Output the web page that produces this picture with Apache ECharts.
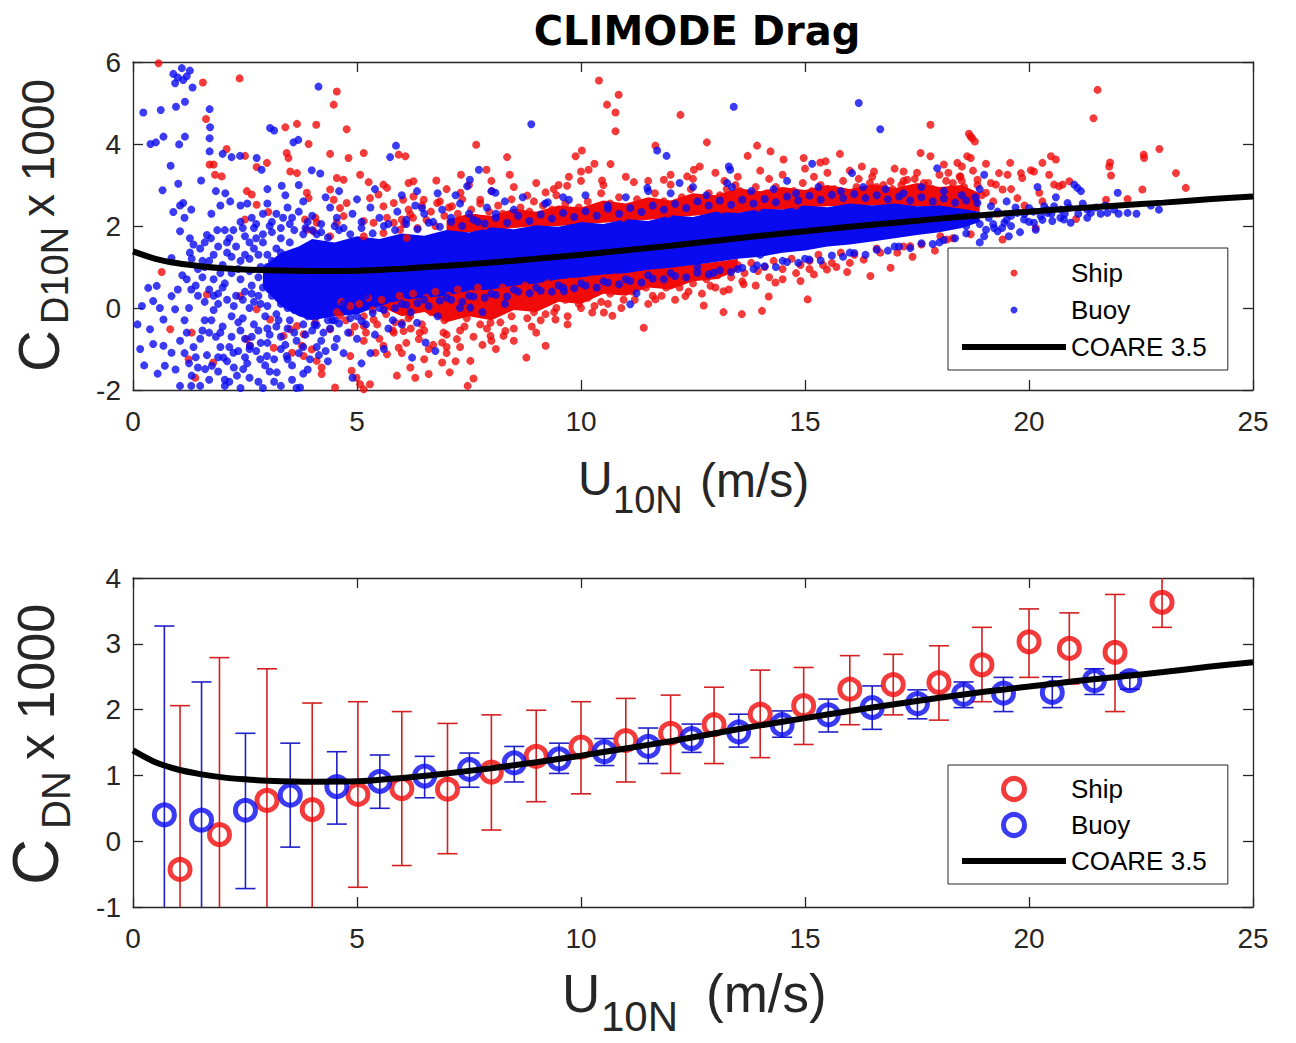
<!DOCTYPE html>
<html><head><meta charset="utf-8">
<script src="https://cdn.jsdelivr.net/npm/echarts/dist/echarts.min.js"></script>
<style>html,body{margin:0;padding:0;background:#fff;}#c{width:1296px;height:1043px;}</style>
</head><body><div id="c"></div>
<script>
// ---------------- DATA ----------------
const coareU  = [0,0.5,1,1.5,2,2.5,3,4,5,6,7,8,9,10,11,12,13,14,15,16,17,18,19,20,21,22,23,24,25];
const coareCd = [1.38,1.2,1.09,1.02,0.97,0.94,0.92,0.905,0.91,0.96,1.03,1.11,1.2,1.3,1.41,1.52,1.64,1.76,1.87,1.98,2.08,2.18,2.27,2.35,2.43,2.5,2.57,2.65,2.72];

// saturated (over-plotted) core of the buoy cloud
const buoyCoreU    = [2.9,3.3,3.7,4.0,4.5,5.0,5.5,6.0,6.5,7.0,7.5,8.0,8.5,9.0,9.5,10,10.5,11,11.5,12,12.5,13,13.5,14,14.5,15,15.5,16,16.5,17,17.5,18,18.5,18.9];
const buoyCoreHigh = [1.0,1.35,1.5,1.68,1.6,1.75,1.68,1.82,1.76,1.9,1.84,1.97,1.92,2.02,1.98,2.1,2.05,2.17,2.12,2.26,2.22,2.35,2.32,2.42,2.4,2.5,2.46,2.55,2.5,2.55,2.48,2.5,2.42,2.35];
const buoyCoreLow  = [0.5,0.05,-0.2,-0.3,-0.2,-0.15,0.05,0.2,0.25,0.3,0.42,0.45,0.55,0.6,0.7,0.75,0.82,0.85,0.93,0.98,1.05,1.12,1.2,1.25,1.35,1.4,1.5,1.55,1.62,1.7,1.78,1.85,1.95,2.1];
// saturated parts of the ship cloud (above and below the buoy core)
const shipUpperCoreU    = [7,7.5,8,8.5,9,9.5,10,10.5,11,11.5,12,12.5,13,13.5,14,14.5,15,15.5,16,16.5,17,17.5,18,18.5,18.9];
const shipUpperCoreHigh = [2.15,2.3,2.25,2.42,2.35,2.5,2.45,2.62,2.55,2.7,2.62,2.8,2.75,2.92,2.85,2.95,2.88,3.0,2.9,3.02,2.92,3.05,2.95,3.0,2.8];
const shipUpperCoreLow  = [1.8,1.85,1.9,1.95,2.0,2.0,2.05,2.08,2.12,2.15,2.2,2.25,2.3,2.32,2.38,2.4,2.45,2.48,2.5,2.5,2.5,2.48,2.45,2.4,2.35];
const shipLowerCoreU    = [5.5,6,6.5,7,7.5,8,8.5,9,9.5,10,10.5,11,11.5,12,12.5,13,13.5];
const shipLowerCoreHigh = [0.3,0.35,0.4,0.45,0.5,0.55,0.6,0.65,0.72,0.8,0.85,0.9,0.95,1.0,1.06,1.12,1.2];
const shipLowerCoreLow  = [0.05,-0.2,-0.1,-0.35,-0.2,-0.3,-0.05,-0.1,0.15,0.1,0.35,0.3,0.5,0.45,0.65,0.7,0.9];

const shipPoints = [
[0.57,5.97],[1.56,5.5],[2.38,5.6],[4.55,5.28],[4.48,4.96],[1.63,4.61],[3.4,4.41],[3.66,4.49],[4.09,4.47],[4.77,4.36],[2.09,3.88],[2.5,3.71],[3.43,3.78],[3.47,3.66],[3.92,4.0],[4.4,3.76],[4.81,3.66],[5.15,3.78],[5.93,3.74],[6.08,3.7],[1.71,3.5],[1.8,3.5],[1.83,3.25],[1.98,3.21],[2.76,3.44],[2.99,3.54],[3.51,3.33],[3.66,3.29],[4.55,3.17],[4.7,3.13],[5.07,3.25],[5.26,3.07],[5.59,3.01],[5.67,2.93],[6.15,3.05],[2.54,2.85],[2.65,2.77],[2.76,2.52],[3.02,2.34],[3.88,2.81],[3.92,2.68],[4.4,2.89],[4.48,2.64],[4.77,2.56],[4.62,2.44],[5.29,2.68],[5.48,2.77],[5.59,2.48],[5.82,2.56],[6.03,2.64],[2.5,2.16],[3.84,2.16],[4.07,2.2],[4.1,2.08],[4.55,2.08],[4.7,2.24],[5.15,2.12],[5.37,2.08],[5.67,2.2],[5.82,2.08],[6.0,2.16],[6.19,2.28],[3.88,1.91],[4.03,1.87],[4.4,1.75],[5.15,1.75],[5.59,1.83],[5.96,1.91],[6.11,1.71],[0.64,0.88],
[1.24,-1.25],[1.79,-1.33],[1.39,-1.7],[2.54,-0.76],[2.61,-0.92],[3.14,-0.97],[3.55,-1.09],[3.77,-0.92],[3.81,-1.17],[3.99,-1.01],[4.1,-1.29],[4.21,-1.45],[4.21,-1.61],[4.51,-1.94],[4.88,-1.53],[4.99,-1.7],[5.07,-1.86],[5.15,-1.98],[5.29,-1.86],[4.85,-1.17],[5.15,-0.8],[5.41,-1.09],[5.59,-0.92],[5.67,-1.13],[5.93,-0.97],[5.89,-1.65],[6.19,-1.45],[6.0,-0.36],[6.11,-0.03],[6.19,-0.19],[6.04,-0.56],[3.66,-0.44],[3.81,-0.64],[4.07,-0.36],[4.4,-0.52],[4.62,-0.19],[4.85,-0.6],[5.15,-0.44],[5.37,-0.28],[5.59,-0.03],[5.82,-0.6],[2.76,-0.03],[3.06,-0.28],[3.36,-0.68],[3.51,-0.52],[2.39,0.29],[1.65,0.33],[0.83,-0.52],[1.31,-0.6],
[10.4,5.55],[10.58,4.96],[10.84,5.2],[10.77,4.77],[10.77,4.31],[12.22,4.71],[7.66,3.98],[8.35,3.68],[8.41,3.25],[7.89,3.37],[7.32,3.25],[6.77,3.11],[6.26,3.09],[9.88,3.7],[10.02,3.84],[10.0,3.33],[10.17,3.37],[10.3,3.52],[10.66,3.51],[10.47,3.11],[11.18,3.07],[11.66,3.96],[9.73,3.2],[9.69,2.98],[9.39,2.9],[9.21,2.82],[8.8,2.74],[8.01,2.85],[7.75,2.64],[7.31,2.81],[7.12,2.48],[6.79,2.56],[6.49,2.64],[6.26,2.72],[12.0,3.01],[11.85,3.13],[12.37,3.21],[12.52,3.37],
[8.78,-1.21],[9.21,-0.92],[7.53,-1.29],[7.6,-1.72],[7.47,-1.9],[7.07,-1.57],[6.9,-1.33],[6.6,-1.61],[6.3,-1.7],[11.4,-0.48],[12.33,0.29],[11.66,0.21],[10.7,-0.19],[10.51,-0.11],[10.25,-0.11],[9.43,-0.28],[9.21,-0.15],[8.31,-0.56],[8.27,-0.68],[7.98,-0.36],[7.98,-0.68],[7.23,-0.76],[6.93,-0.6],[6.9,-0.84],[6.38,-0.76],[6.6,-1.0],[7.0,-1.1],[7.3,-0.95],[7.8,-0.9],[8.1,-1.0],[8.5,-0.8],[8.9,-0.45],[9.7,-0.4],[6.5,-1.25],[7.2,-1.3],
[17.8,4.47],[18.66,4.25],[18.73,4.14],[12.81,4.04],[13.93,3.96],[14.23,3.82],[13.72,3.71],[15.78,3.76],[17.58,3.78],[17.8,3.7],[18.62,3.7],[15.34,3.55],[15.46,3.58],[14.97,3.66],[14.52,3.62],[12.65,3.45],[16.27,3.45],[16.54,3.33],[17.2,3.33],[18.1,3.5],[18.4,3.54],[18.47,3.21],[16.91,3.09],[17.28,3.13],[17.65,3.05],
[12.74,0.06],[13.18,-0.1],[13.59,-0.15],[14.04,-0.07],[14.19,0.28],[15.06,0.21],[14.34,0.62],[14.9,0.66],[13.18,0.41],[13.63,0.58],[12.89,0.54],[12.59,0.86],[15.49,0.94],[15.94,0.88],[16.46,0.78],[16.91,0.98],[15.2,0.82],[16.31,1.18],[16.68,1.35],[17.06,1.35],[17.35,1.51],[18.17,1.67],[18.02,1.75],[17.4,1.25],[17.9,1.4],[18.4,1.3],
[21.53,5.32],[21.44,4.63],[22.91,3.88],[22.56,3.74],[22.57,3.66],[23.28,3.29],[23.5,2.93],[22.53,2.89],[21.81,3.55],[21.79,3.45],[21.83,3.23],[18.7,4.18],[18.79,4.06],[18.7,3.66],[19.04,3.52],[19.58,3.54],[20.3,3.54],[20.49,3.7],[20.6,3.62],[20.04,3.36],[20.11,3.33],[19.82,3.29],[19.85,3.17],[19.52,3.25],[19.33,3.29],[20.45,3.25],[20.56,3.01],[20.67,2.97],[20.75,3.01],[20.9,3.09],[19.15,3.05],[19.26,3.01],[18.85,3.13],[19.04,2.81],[19.41,2.89],[20.23,2.81],[19.74,2.68],[21.72,2.64],[22.2,2.66],[21.05,2.17],[20.15,1.95],[19.41,1.67],
[6.05,2.05],[6.15,2.4],[6.25,2.2],[6.35,1.95],[6.45,2.5],[6.55,2.15],[6.65,2.35],[6.75,2.0],[6.85,2.6],[6.95,2.25],
[7.05,2.45],[7.15,2.1],[7.25,2.3],[7.35,2.65],[7.45,2.05],[7.55,2.4],[7.65,2.2],[7.75,2.55],[7.85,2.0],[7.95,2.35],
[8.05,2.15],[8.15,2.5],[8.25,2.3],[8.35,2.05],[8.45,2.65],[8.55,2.2],[8.65,2.45],[8.75,2.1],[8.85,2.35],[8.95,2.6],
[9.05,2.25],[9.15,2.5],[9.25,2.1],[9.35,2.4],[9.45,2.75],[9.55,2.2],[9.65,2.55],[9.75,2.3],[9.85,2.15],[9.95,2.45],
[10.05,2.3],[10.15,2.6],[10.25,2.2],[10.35,2.45],[10.45,2.8],[10.55,2.25],[10.65,2.55],[10.75,2.35],[10.85,2.7],[10.95,2.2],
[11.05,2.45],[11.15,2.3],[11.25,2.65],[11.35,2.4],[11.45,2.25],[11.55,2.55],[11.65,2.8],[11.75,2.35],[11.85,2.6],[11.95,2.3],
[12.05,2.5],[12.15,2.35],[12.25,2.7],[12.35,2.45],[12.45,2.9],[12.55,2.4],[12.65,2.6],[12.75,2.45],[12.85,2.8],[12.95,2.55],
[13.05,2.5],[13.1,2.75],[13.2,2.6],[13.25,2.9],[13.35,2.45],[13.4,2.7],[13.5,2.55],[13.55,2.85],[13.6,2.65],[13.7,2.5],[13.75,2.75],[13.85,2.6],[13.9,2.95],[13.95,2.45],[13.45,3.0],[13.15,2.4],
[14.05,2.55],[14.15,2.8],[14.25,2.6],[14.35,2.95],[14.45,2.5],[14.55,2.7],[14.65,2.55],[14.75,2.85],[14.85,2.65],[14.95,3.05],[14.4,2.75],[14.8,2.5],
[15.05,2.6],[15.15,2.85],[15.25,2.65],[15.35,3.0],[15.45,2.7],[15.55,2.6],[15.65,2.9],[15.75,2.7],[15.85,3.1],[15.95,2.65],
[16.05,2.7],[16.15,2.95],[16.25,2.75],[16.35,2.65],[16.45,3.05],[16.55,2.8],[16.65,2.7],[16.75,3.0],[16.85,2.75],[16.95,2.9],[16.3,2.85],[16.6,2.95],
[17.05,2.75],[17.15,3.0],[17.25,2.8],[17.35,2.7],[17.45,3.15],[17.55,2.85],[17.65,2.75],[17.75,3.05],[17.85,2.9],[17.95,2.7],
[18.05,2.8],[18.15,3.1],[18.25,2.9],[18.35,2.7],[18.45,3.2],[18.55,2.95],[18.65,2.8],[18.75,3.35],[18.85,3.0],[18.95,2.75],[18.5,3.45],[18.2,3.3],
[7.0,2.9],[7.5,3.0],[8.0,3.1],[8.5,2.95],[9.0,3.05],[9.5,3.0],[10.0,3.1],[10.5,3.0],[11.0,3.2],[11.5,3.1],[12.0,3.25],[12.5,3.15],[13.0,3.3],[13.5,3.2],[14.0,3.35],[14.5,3.25],[15.0,3.4],[15.5,3.3],[16.0,3.35],[16.5,3.2],[17.0,3.4],[17.5,3.3],[18.0,3.25],[18.5,3.1],[13.2,3.1],[14.2,3.15],[15.2,3.2],[16.2,3.15],[17.2,3.1],[18.3,3.05],[19.2,2.6],[19.6,2.9],[19.9,2.5],[20.3,2.6],[19.3,2.3],
[4.55,-0.1],[4.65,0.15],[4.75,-0.3],[4.85,0.05],[4.95,-0.45],
[5.05,0.1],[5.15,-0.2],[5.25,0.25],[5.35,-0.05],[5.45,-0.4],[5.55,0.2],[5.65,-0.15],[5.75,0.05],[5.85,-0.35],[5.95,0.3],
[6.05,0.15],[6.15,-0.25],[6.25,0.35],[6.35,0.0],[6.45,-0.4],[6.55,0.25],[6.65,-0.1],[6.75,0.4],[6.85,0.05],[6.95,-0.3],[6.5,-0.55],[6.2,-0.5],
[7.05,0.3],[7.15,-0.05],[7.25,0.45],[7.35,0.1],[7.45,-0.25],[7.55,0.35],[7.65,0.0],[7.75,-0.4],[7.85,0.25],[7.95,-0.1],[7.4,-0.45],[7.7,0.5],
[8.05,0.35],[8.15,0.0],[8.25,0.5],[8.35,0.15],[8.45,-0.2],[8.55,0.4],[8.65,0.05],[8.75,0.55],[8.85,0.2],[8.95,-0.1],
[9.05,0.45],[9.15,0.15],[9.25,0.6],[9.35,0.3],[9.45,0.0],[9.55,0.5],[9.65,0.2],[9.75,0.65],[9.85,0.35],[9.95,0.1],
[10.05,0.55],[10.15,0.25],[10.25,0.7],[10.35,0.4],[10.45,0.15],[10.55,0.6],[10.65,0.35],[10.75,0.75],[10.85,0.45],[10.95,0.2],
[11.05,0.65],[11.15,0.4],[11.3,0.8],[11.45,0.5],[11.6,0.3],[11.75,0.7],[11.9,0.5],
[12.05,0.75],[12.2,0.5],[12.35,0.85],[12.5,0.6],[12.65,0.9],[12.8,0.7],[12.95,0.95],
[13.05,0.8],[13.2,1.0],[13.35,0.75],[13.5,1.05],[13.65,0.85],[13.8,1.1],[13.95,0.9],
[14.1,1.0],[14.3,1.15],[14.5,0.95],[14.7,1.2],[14.9,1.05],[15.1,1.15],[15.3,1.3],[15.6,1.1],[15.8,1.35],
[16.1,1.3],[16.6,1.45],[17.2,1.5],[17.6,1.55],[18.3,1.7],[18.7,1.8],
[5.2,-0.6],[5.5,-0.75],[5.8,-0.55],[6.1,-0.85],[6.4,-0.6],[6.7,-0.9],[7.0,-0.65],[7.3,-0.55],[7.6,-0.7],[7.9,-0.5],[8.2,-0.35],[8.5,-0.5],[8.8,-0.25],[9.1,-0.3],[9.4,-0.1],[9.7,-0.2],[10.0,0.0],[10.3,0.05],[10.6,0.1],[10.9,0.0],[11.2,0.2],[11.5,0.1],[11.8,0.3],[12.1,0.2],[12.4,0.4],[12.7,0.35],[13.0,0.5],[13.3,0.45],[13.6,0.65],[13.9,0.55],[14.2,0.75],[14.5,0.7],[14.8,0.85],[15.1,0.95],[15.4,1.05],[15.7,1.0],[16.0,1.1],[6.0,-1.1],[7.0,-0.95],[8.0,-0.8],[9.0,-0.6]
];

const buoyPoints = [
[1.09,5.85],[0.9,5.71],[1.27,5.79],[0.94,5.48],[1.12,5.56],[1.33,5.38],[1.2,5.65],[1.0,5.62],
[0.23,4.77],[0.62,4.83],[0.96,4.91],[1.16,5.03],[1.71,4.85],
[0.39,4.0],[0.51,4.04],[0.68,4.18],[1.03,3.99],[1.16,4.18],[1.72,4.41],[1.71,4.14],[1.71,3.82],
[0.84,3.47],[1.52,3.11],[1.01,3.03],[0.66,2.87],
[2.0,3.76],[2.2,3.68],[2.39,3.71],[2.76,3.66],[2.87,3.37],[3.06,4.39],[3.15,4.33],[3.58,4.04],[3.69,4.1],[3.99,3.36],[4.18,3.28],[4.14,5.4],[3.32,2.98],[5.87,3.96],[5.74,3.68],
[1.12,2.56],[0.9,2.34],[1.05,2.5],[1.3,2.4],[1.15,2.2],[1.75,2.3],[1.95,2.5],[2.17,2.6],[2.4,2.5],[1.85,2.85],[2.06,2.8],[2.55,2.55],[3.0,2.55],[2.65,2.2],[2.4,2.1],[2.75,2.05],[3.2,2.3],[3.45,2.45],[3.8,2.6],[3.55,2.2],
[1.05,1.87],[1.27,1.7],[1.65,1.78],[1.74,1.7],[1.88,1.9],[2.1,1.6],[2.05,1.9],[2.24,1.9],[2.5,1.75],[2.7,1.95],[2.9,1.6],[3.1,1.85],[3.3,1.7],
[0.86,1.22],[1.27,1.35],[1.31,1.2],[1.5,1.45],[1.55,1.15],[1.8,1.3],[2.2,1.25],[2.5,1.3],[2.7,1.45],[3.0,1.3],
[0.34,0.49],[0.53,0.54],[0.45,0.17],[0.86,0.29],[0.94,-0.03],[0.38,-0.52],[0.68,-0.28],[0.68,-0.92],[0.86,-1.09],[0.16,-1.0],[0.45,-0.88],[0.71,-1.41],
[1.05,-1.9],[1.31,-1.65],[1.61,-1.49],[1.76,-1.41],[2.05,-1.9],[2.32,-1.65],[2.46,-1.49],[2.02,-1.21],[2.24,-1.09],[2.61,-0.92],[2.84,-1.25],[2.99,-1.17],[3.21,-1.57],[3.43,-1.17],[3.73,-1.94],[2.05,-1.75],
[1.25,-1.35],[1.35,-0.95],[1.5,-0.75],[1.2,-0.6],[1.6,-0.3],[1.25,0.0],[1.45,0.3],[1.7,0.45],[1.9,0.1],[2.0,-0.45],[2.15,-0.95],[2.35,-0.35],[2.5,-0.75],[2.6,-1.0],[2.8,-0.55],[3.0,-0.85],[3.2,-0.45],[3.4,-0.9],[3.6,-0.6],[3.8,-0.95],[4.0,-0.55],[4.2,-0.8],[4.5,-0.95],[4.35,-1.3],[4.7,-1.1],[5.0,-0.75],
[2.05,0.6],[2.3,0.3],[2.6,0.0],[2.8,0.3],[3.0,0.05],[3.2,-0.15],[1.8,-0.05],[1.55,0.75],[1.95,0.85],[2.4,0.7],[2.65,0.55],[1.4,-1.2],[1.85,-0.7],[1.9,-1.2],[2.5,-1.2],[2.25,-1.45],[3.15,-1.8],[3.65,-1.95],[2.8,-1.8],[3.45,-1.25],[3.9,-1.5],[4.15,-1.15],[2.95,-0.2],[3.5,-0.3],[3.7,0.15],[3.9,-0.2],[4.4,-0.5],[4.8,-0.6],[5.2,-0.4],[5.4,-0.65],[5.7,-0.5],[6.0,-0.4],[6.34,-0.36],[6.53,-0.84],[6.75,-1.05],[6.23,-1.21],[5.6,-1.0],[5.1,-1.35],[4.9,-1.7],[5.3,-1.1],
[1.1,0.8],[1.4,0.55],[1.6,1.0],[1.8,0.7],[2.0,1.05],[2.2,0.85],[2.4,1.15],[2.6,0.9],[2.8,0.75],[3.0,1.0],[3.2,0.6],[3.4,0.85],[1.9,0.35],[2.1,0.2],[2.5,0.4],[2.7,0.15],[2.9,0.5],[3.1,0.3],[3.3,0.1],[3.5,0.45],[3.6,-0.05],[1.3,0.45],[1.7,-0.6],[2.2,-0.2],[2.4,-0.55],[2.7,-0.4],[3.0,-0.5],[3.3,-0.7],[3.8,-0.4],[4.1,-0.2],[4.3,0.2],[1.35,1.55],[1.6,1.6],[2.3,1.5],[2.6,1.6],[2.9,1.8],[3.2,1.45],[3.5,1.6],[3.8,1.8],[4.0,1.9],
[1.5,-1.9],[1.7,-1.75],[1.9,-1.55],[2.15,-1.8],[2.4,-1.95],[2.6,-1.7],[2.9,-1.95],[3.05,-1.55],[3.3,-1.9],[3.55,-1.75],[3.8,-1.6],[1.45,-1.45],[1.65,-1.15],[1.95,-0.95],[2.1,-1.3],[2.35,-1.05],[2.55,-1.35],[2.75,-1.05],[2.95,-1.4],[3.15,-1.25],[3.3,-1.0],[3.55,-1.4],[3.7,-1.1],[3.95,-1.25],[4.1,-0.95],[4.3,-1.05],[4.55,-0.75],[1.55,-0.55],[1.75,-0.3],[1.95,-0.6],[2.2,-0.7],[2.45,-0.25],[2.65,-0.7],[2.85,-0.85],[3.05,-0.65],[3.25,-0.3],[3.45,-0.5],[3.65,-0.8],[3.85,-0.65],[4.05,-0.4],[4.25,-0.6],[4.45,-0.3],[1.6,0.15],[1.8,0.3],[2.0,0.5],[2.25,0.05],[2.45,0.2],[2.65,0.35],[2.85,0.1],[3.05,0.45],[3.25,0.25],[3.45,0.0],[3.65,0.3],[3.85,0.1],[1.15,-0.3],[1.05,-0.8],[1.15,-1.1],[0.95,-1.5],[1.3,-1.9],[0.55,-1.6],[0.25,-1.4],[0.2,0.05],[0.1,-0.4],[0.6,0.0],[1.0,0.45],[1.2,0.7],[1.45,0.95],[1.7,1.15],[1.9,1.5],[2.1,1.35],[2.35,0.95],[2.6,1.2],[2.85,1.0],[3.1,1.15],[3.3,1.35],[2.8,1.3],[2.15,1.7],[2.45,1.95],[2.75,1.7],[3.05,2.0],[3.35,2.2],[3.6,1.9],[3.9,2.1],[4.2,1.85],[4.5,2.0],
[2.9,2.3],[3.1,2.1],[3.3,1.95],[3.5,2.05],[3.7,2.35],[3.85,1.95],[4.0,2.25],[4.2,2.05],[4.4,2.45],[4.55,2.2],[4.7,1.95],[4.9,2.3],[5.1,2.1],[5.3,2.45],[5.5,2.2],[5.7,2.05],[5.9,2.35],[6.1,2.15],[6.3,2.5],[6.5,2.3],[6.7,2.1],[6.9,2.4],[7.1,2.2],[7.3,2.55],[7.5,2.3],[7.7,2.1],[7.9,2.45],[8.1,2.3],[8.3,2.6],[8.5,2.4],[4.3,2.7],[4.6,2.85],[5.0,2.65],[5.4,2.9],[3.4,2.75],[3.7,3.0],[3.0,2.9],[6.8,2.8],[6.0,2.75],[7.2,2.75],[8.0,2.85],[8.7,2.7],[9.2,2.55],[9.6,2.7],[10.1,2.75],[10.6,2.5],[11.0,2.7],[11.5,2.85],[12.0,2.8],[12.5,2.95],[11.48,2.93],[9.73,2.64],[9.26,2.58],[8.09,2.81],[7.72,3.37],[7.52,3.13],[7.46,2.97],[8.89,4.48],[11.7,3.84],[11.91,3.71],[6.45,2.44],[6.34,2.85],
[4.5,-0.3],[5.0,-0.2],[5.5,0.0],[6.0,0.1],[6.5,0.2],[7.0,0.25],[7.5,0.3],[8.0,0.35],[8.5,0.45],[9.0,0.5],[9.5,0.55],[10.0,0.6],[10.5,0.65],[11.0,0.7],[11.5,0.8],[12.0,0.85],[4.7,0.1],[5.2,0.3],[5.8,-0.3],[6.2,-0.1],[6.8,-0.2],[7.3,0.0],[7.8,-0.1],[8.3,0.1],[9.62,0.41],[11.1,0.09],[11.24,0.36],[7.53,0.01],[12.96,0.86],[13.93,1.04],[13.5,0.95],[14.5,1.15],[15.0,1.2],[16.0,1.35],[17.0,1.5],[18.0,1.6],[14.0,1.3],[12.6,1.0],
[13.41,4.91],[16.2,5.0],[16.68,4.36],[13.3,3.45],[13.33,3.37],[15.16,3.52],[16.05,3.29],[17.95,3.41],[13.26,3.05],[13.37,2.95],[12.8,2.75],[13.8,2.85],[14.3,2.9],[14.8,2.8],[15.3,2.95],[15.8,2.85],[16.3,2.95],[16.8,2.9],[17.2,2.8],[17.6,2.95],[18.1,2.85],[18.5,2.75],[18.9,2.9],[19.0,3.25],[14.6,3.1],[12.2,3.05],
[20.19,2.95],[21.01,3.01],[21.08,2.93],[21.16,2.85],[21.98,2.81],[22.2,2.32],[22.72,2.5],[21.75,2.32],[21.38,2.32],[21.3,2.4],[20.86,2.56],[20.71,2.4],[20.56,2.48],[20.41,2.32],[20.26,2.24],[20.11,2.08],[19.89,2.16],[19.6,2.0],[19.3,1.87],[19.04,1.91],[19.0,1.75],[19.22,1.95],[19.45,2.08],[19.74,2.32],[20.0,2.44],[20.34,2.48],[19.15,2.48],[18.85,2.56],[18.77,2.24],[20.93,2.08],[20.78,2.16],[20.52,2.12],[20.15,1.91],[19.55,1.75],[18.9,1.6],[19.8,1.85],[21.6,2.3],[21.9,2.4],[22.4,2.3],[22.9,2.4],[20.6,2.7],[19.5,2.6],[18.6,2.0],[18.8,2.7],
[19.1,2.2],[19.3,2.35],[19.5,2.15],[19.7,2.45],[19.9,2.3],[20.1,2.35],[20.3,2.15],[20.5,2.3],[20.7,2.2],[20.9,2.45],[21.1,2.3],[21.3,2.2],[21.5,2.45],[21.7,2.5],[22.0,2.3],[19.2,2.05],[19.6,2.25],[20.0,2.1],[20.4,2.4],[20.8,2.3],[21.2,2.55],[18.9,2.05],[19.4,1.95],
[4.1,1.8],[4.35,1.72],[4.6,1.9],[4.85,1.8],[5.1,1.95],[5.35,1.82],[5.6,2.0],[5.85,1.9],[6.1,2.05],[6.35,1.92],[6.6,2.08],[6.85,1.98],[7.1,2.1],[7.35,2.0],[7.6,2.16],[7.85,2.06],[8.1,2.2],[8.35,2.08],[8.6,2.25],[8.85,2.12],[9.1,2.28],[9.35,2.18],[9.6,2.32],[9.85,2.22],[10.1,2.36],[10.35,2.25],[10.6,2.42],[10.85,2.3],[11.1,2.44],[11.35,2.34],[11.6,2.5],[11.85,2.4],[12.1,2.54],[12.35,2.44],[12.6,2.6],[12.85,2.5],[13.1,2.62],[13.35,2.52],[13.6,2.64],[13.85,2.55],[14.1,2.66],[14.35,2.58],[14.6,2.72],[14.85,2.62],[15.1,2.74],[15.35,2.64],[15.6,2.76],[15.85,2.68],[16.1,2.78],[16.35,2.68],[16.6,2.75],[16.85,2.65],[17.1,2.72],[17.35,2.62],[17.6,2.7],[17.85,2.6],[18.1,2.67],[18.35,2.57],[18.6,2.62],
[4.1,-0.42],[4.35,-0.3],[4.6,-0.38],[4.85,-0.25],[5.1,-0.32],[5.35,-0.12],[5.6,-0.05],[5.85,0.0],[6.1,0.08],[6.35,0.12],[6.6,0.05],[6.85,0.18],[7.1,0.2],[7.35,0.15],[7.6,0.28],[7.85,0.25],[8.1,0.32],[8.35,0.28],[8.6,0.4],[8.85,0.36],[9.1,0.42],[9.35,0.4],[9.6,0.5],[9.85,0.48],[10.1,0.55],[10.35,0.5],[10.6,0.62],[10.85,0.58],[11.1,0.66],[11.35,0.62],[11.6,0.72],[11.85,0.7],[12.1,0.78],[12.35,0.75],[12.6,0.86],[12.85,0.82],[13.1,0.92],[13.35,0.88],[13.6,0.98],[13.85,0.95],[14.1,1.02],[14.35,1.0],[14.6,1.12],[14.85,1.1],[15.1,1.18],[15.35,1.16],[15.6,1.28],[15.85,1.25],[16.1,1.34],[16.35,1.3],[16.6,1.42],[16.85,1.4],[17.1,1.5],[17.35,1.46],[17.6,1.58],[17.85,1.56],[18.1,1.66],[18.35,1.7],[18.6,1.82]
];

// bin averages (bottom panel)
const shipBinU    = [1.05,1.93,2.99,4.0,5.02,6.0,7.02,8.0,9.0,10.0,11.0,12.0,12.97,14.0,14.97,16.0,16.97,17.99,18.95,20.0,20.9,21.92,22.97];
const shipBinCd   = [-0.43,0.10,0.62,0.48,0.71,0.80,0.79,1.05,1.29,1.43,1.53,1.64,1.77,1.93,2.06,2.31,2.38,2.41,2.68,3.03,2.93,2.87,3.63];
const shipErrLow  = [-2.92,-2.59,-1.38,-1.14,-0.70,-0.37,-0.19,0.17,0.60,0.72,0.90,1.03,1.18,1.27,1.47,1.77,1.92,1.84,2.12,2.49,2.39,1.97,3.25];
const shipErrHigh = [2.06,2.79,2.62,2.10,2.12,1.97,1.79,1.92,1.99,2.12,2.17,2.22,2.34,2.60,2.64,2.82,2.84,2.97,3.25,3.53,3.47,3.75,4.15];
const buoyBinU    = [0.70,1.53,2.51,3.51,4.55,5.51,6.51,7.51,8.51,9.51,10.52,11.5,12.47,13.52,14.49,15.52,16.5,17.51,18.54,19.43,20.52,21.46,22.25];
const buoyBinCd   = [0.40,0.32,0.47,0.70,0.83,0.91,0.99,1.09,1.19,1.25,1.36,1.44,1.56,1.66,1.77,1.92,2.03,2.09,2.23,2.25,2.26,2.44,2.44];
const buoyErrLow  = [-2.47,-1.78,-0.72,-0.09,0.26,0.50,0.66,0.82,0.90,1.03,1.15,1.18,1.35,1.43,1.58,1.66,1.70,1.86,2.03,1.97,2.03,2.23,2.31];
const buoyErrHigh = [3.27,2.42,1.64,1.49,1.36,1.31,1.29,1.34,1.44,1.49,1.56,1.72,1.78,1.93,1.98,2.16,2.36,2.30,2.42,2.49,2.50,2.62,2.56];

// ---------------- STYLE ----------------
const RED = '#f00a0a', BLUE = '#0a0af0', AX = '#262626';
const FONT = "'Liberation Sans', Arial, Helvetica, sans-serif";
const DOT = 8;
const chart = echarts.init(document.getElementById('c'), null, {renderer: 'svg'});

function xAx(grid, pos, labels) {
  return {type:'value', gridIndex:grid, position:pos, min:0, max:25, interval:5,
    axisLine:{show:true, onZero:false, lineStyle:{color:AX, width:1.3}},
    axisTick:{show:true, inside:true, length:10, lineStyle:{color:AX, width:1.3}},
    axisLabel:{show:labels, fontSize:28, fontFamily:FONT, color:AX, margin:17},
    splitLine:{show:false}};
}
function yAx(grid, pos, labels, min, max, itv) {
  return {type:'value', gridIndex:grid, position:pos, min:min, max:max, interval:itv,
    axisLine:{show:true, onZero:false, lineStyle:{color:AX, width:1.3}},
    axisTick:{show:true, inside:true, length:10, lineStyle:{color:AX, width:1.3}},
    axisLabel:{show:labels, fontSize:28, fontFamily:FONT, color:AX, margin:12},
    splitLine:{show:false}};
}
function errRender(color) {
  return function (params, api) {
    const x = api.value(0), lo = api.value(2), hi = api.value(3);
    const a = api.coord([x, hi]), b = api.coord([x, lo]);
    const w = 10, st = {stroke: color, lineWidth: 1.6};
    return {type:'group', children:[
      {type:'line', shape:{x1:a[0], y1:a[1], x2:b[0], y2:b[1]}, style:st},
      {type:'line', shape:{x1:a[0]-w, y1:a[1], x2:a[0]+w, y2:a[1]}, style:st},
      {type:'line', shape:{x1:b[0]-w, y1:b[1], x2:b[0]+w, y2:b[1]}, style:st}
    ]};
  };
}
function bandSeries(name, U, lo, hi, color) {
  return {name:name, type:'custom', xAxisIndex:0, yAxisIndex:0, silent:true,
    data:[[U[0], lo[0]]],
    renderItem: function (params, api) {
      const pts = [];
      for (let i = 0; i < U.length; i++) pts.push(api.coord([U[i], hi[i]]));
      for (let i = U.length - 1; i >= 0; i--) pts.push(api.coord([U[i], lo[i]]));
      return {type:'polygon', shape:{points:pts}, style:{fill:color}};
    }};
}
const zip2 = (a, b) => a.map((v, i) => [v, b[i]]);
const zip4 = (a, b, c, d) => a.map((v, i) => [v, b[i], c[i], d[i]]);
const txt = (t, x, y, size) => ({type:'text', x:x, y:y, style:{text:t, fontSize:size, fontFamily:FONT, fill:AX, align:'left', verticalAlign:'middle', textAlign:'left', textVerticalAlign:'middle'}});
const hideDot = {color:'rgba(0,0,0,0)', opacity:0, borderWidth:0};

const option = {
  animation: false,
  backgroundColor: '#fff',
  title: {text:'CLIMODE Drag', left:692, top:6, textAlign:'center',
    textStyle:{fontSize:40, fontWeight:'bold', fontFamily:"'DejaVu Sans', sans-serif", color:'#000'}},
  grid: [
    {left:133, top:62, width:1120, height:328},
    {left:133, top:578, width:1120, height:329}
  ],
  xAxis: [xAx(0,'bottom',true), xAx(0,'top',false), xAx(1,'bottom',true), xAx(1,'top',false)],
  yAxis: [yAx(0,'left',true,-2,6,2), yAx(0,'right',false,-2,6,2), yAx(1,'left',true,-1,4,1), yAx(1,'right',false,-1,4,1)],
  legend: [
    {orient:'vertical', left:948, top:248, itemWidth:104, itemHeight:7, itemGap:11,
     padding:[12,21,10,11], borderColor:AX, borderWidth:1, backgroundColor:'#fff', selectedMode:false,
     textStyle:{fontSize:26, fontFamily:FONT, color:'#000'},
     data:[{name:'Ship', icon:'circle', itemStyle:{color:RED, borderWidth:0}},
           {name:'Buoy', icon:'circle', itemStyle:{color:BLUE, borderWidth:0}},
           {name:'COARE 3.5', lineStyle:{width:6, color:'#000'}, itemStyle:hideDot}]},
    {orient:'vertical', left:948, top:765, itemWidth:104, itemHeight:21, itemGap:10,
     padding:[11,21,10,11], borderColor:AX, borderWidth:1, backgroundColor:'#fff', selectedMode:false,
     textStyle:{fontSize:26, fontFamily:FONT, color:'#000'},
     data:[{name:'Ship', icon:'circle', itemStyle:{color:'#fff', borderColor:RED, borderWidth:5}},
           {name:'Buoy', icon:'circle', itemStyle:{color:'#fff', borderColor:BLUE, borderWidth:5}},
           {name:'COARE 3.5', lineStyle:{width:6, color:'#000'}, itemStyle:hideDot}]}
  ],
  graphic: [
    txt('U', 578, 478, 48), txt('10N', 613, 500, 38), txt('(m/s)', 700, 480, 48),
    txt('U', 562, 993, 53), txt('10N', 601, 1016, 42), txt('(m/s)', 706, 993, 53),
    {type:'group', x:38, y:372, rotation:Math.PI/2, children:[
      txt('C', 0, 0, 58), txt('D10N', 48, 17, 38), txt('x 1000', 155, 0, 46)]},
    {type:'group', x:36, y:885, rotation:Math.PI/2, children:[
      txt('C', 0, 0, 64), txt('DN', 56, 20, 40), txt('x 1000', 125, 0, 52)]}
  ],
  series: [
    bandSeries('Ship core above', shipUpperCoreU, shipUpperCoreLow, shipUpperCoreHigh, RED),
    bandSeries('Ship core below', shipLowerCoreU, shipLowerCoreLow, shipLowerCoreHigh, RED),
    {name:'Ship', type:'scatter', xAxisIndex:0, yAxisIndex:0, data:shipPoints, symbol:'circle', symbolSize:DOT,
     itemStyle:{color:RED}, silent:true},
    bandSeries('Buoy core', buoyCoreU, buoyCoreLow, buoyCoreHigh, BLUE),
    {name:'Buoy', type:'scatter', xAxisIndex:0, yAxisIndex:0, data:buoyPoints, symbol:'circle', symbolSize:DOT,
     itemStyle:{color:BLUE}, silent:true},
    {name:'COARE 3.5', type:'line', xAxisIndex:0, yAxisIndex:0, data:zip2(coareU, coareCd), symbol:'none', smooth:0.3,
     lineStyle:{color:'#000', width:6}, silent:true},

    {name:'COARE 3.5', type:'line', xAxisIndex:2, yAxisIndex:2, data:zip2(coareU, coareCd), symbol:'none', smooth:0.3,
     lineStyle:{color:'#000', width:6}, silent:true},
    {name:'Ship err', type:'custom', xAxisIndex:2, yAxisIndex:2, clip:true, silent:true,
     data:zip4(shipBinU, shipBinCd, shipErrLow, shipErrHigh), renderItem:errRender('#d42020')},
    {name:'Ship', type:'scatter', xAxisIndex:2, yAxisIndex:2, data:zip2(shipBinU, shipBinCd), symbol:'circle', symbolSize:20,
     itemStyle:{color:'rgba(0,0,0,0)', borderColor:RED, borderWidth:5}, silent:true},
    {name:'Buoy err', type:'custom', xAxisIndex:2, yAxisIndex:2, clip:true, silent:true,
     data:zip4(buoyBinU, buoyBinCd, buoyErrLow, buoyErrHigh), renderItem:errRender('#2020c8')},
    {name:'Buoy', type:'scatter', xAxisIndex:2, yAxisIndex:2, data:zip2(buoyBinU, buoyBinCd), symbol:'circle', symbolSize:20,
     itemStyle:{color:'rgba(0,0,0,0)', borderColor:BLUE, borderWidth:5}, silent:true}
  ]
};
chart.setOption(option);
</script>
</body></html>
